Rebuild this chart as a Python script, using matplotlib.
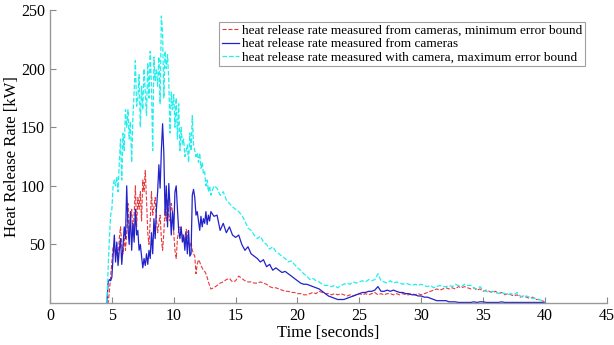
import numpy as np
import matplotlib
matplotlib.use('Agg')
import matplotlib.pyplot as plt

plt.rcParams['font.family'] = ['Liberation Serif', 'DejaVu Serif']

# time axis: fine step through the peak, coarser afterwards
t_fine = np.round(np.arange(4.6, 13.05, 0.1), 2)
t_coarse = np.round(np.arange(13.25, 40.01, 0.25), 2)
time = np.concatenate([t_fine, t_coarse])

hrr_min = [
    0, 0, 10, 22, 35, 48, 50, 40, 45, 38,
    55, 65, 50, 42, 55, 45, 60, 85, 55, 70,
    80, 60, 75, 100, 65, 90, 80, 95, 70, 105,
    95, 113, 88, 60, 50, 70, 95, 75, 82, 90,
    72, 60, 68, 75, 55, 45, 60, 80, 70, 88,
    75, 70, 85, 78, 60, 45, 38, 55, 62, 65,
    60, 58, 52, 55, 63, 60, 50, 48, 52, 45,
    42, 40, 25, 33, 37, 35, 32, 30, 28, 27,
    25, 22, 18, 15, 12,
    13, 15, 17, 18, 20, 21, 18, 19, 23, 21,
    19, 18, 18, 17, 17, 18, 17, 16, 14, 13,
    13, 12, 11, 10, 10, 9, 9, 8, 8, 7,
    7, 8, 9, 8, 10, 9, 8, 8, 7, 8,
    7, 8, 7, 6, 7, 6, 7, 8, 7, 8,
    7, 8, 9, 7, 8, 7, 8, 8, 7, 8,
    7, 8, 7, 7, 8, 7, 8, 7, 8, 9,
    10, 11, 12, 11, 12, 13, 12, 13, 12, 14,
    13, 14, 13, 12, 13, 11, 12, 10, 11, 10,
    9, 10, 8, 9, 7, 8, 7, 6, 7, 5,
    6, 5, 4, 5, 3, 3, 2, 1,
]

hrr_cam = [
    0, 18, 20, 19, 22, 40, 58, 35, 52, 32,
    45, 55, 33, 48, 65, 55, 100, 65, 50, 78,
    45, 68, 52, 80, 58, 62, 45, 50, 40, 30,
    38, 32, 42, 33, 45, 38, 60, 42, 72, 55,
    80, 95, 118, 98, 130, 153, 128, 75, 100, 65,
    102, 82, 58, 78, 62, 95, 100, 80, 62, 55,
    65, 52, 58, 45, 60, 42, 62, 40, 42, 92,
    97, 90, 75, 78, 70, 62, 74, 65, 72, 68,
    78, 67, 75, 70, 78,
    74, 75, 62, 68, 60, 65, 58, 56, 58, 50,
    45, 48, 42, 40, 38, 35, 37, 31, 33, 28,
    30, 28, 26, 27, 25, 23, 21, 19, 17, 16,
    16, 15, 14, 13, 12, 10, 8, 6, 5, 4,
    3, 3, 3, 4, 5, 6, 7, 8, 9, 9,
    10, 10, 11, 14, 10, 10, 11, 10, 11, 10,
    9, 9, 8, 8, 7, 7, 6, 6, 5, 5,
    4, 3, 2, 2, 2, 2, 1, 1, 1, 0.5,
    0.5, 0.5, 0.5, 0.5, 1, 0.5, 1, 1, 0.5, 0.5,
    0.5, 0.5, 0.5, 1, 0.5, 0.5, 0.5, 0.5, 0.5, 0.5,
    0.5, 0.5, 0.5, 0.5, 0.5, 0.5, 0.5, 0,
]

hrr_max = [
    0, 30, 55, 75, 80, 100, 105, 100, 108, 95,
    120, 140, 105, 145, 130, 165, 150, 165, 140, 155,
    120, 158, 180, 207, 168, 175, 195, 150, 185, 165,
    200, 180, 160, 205, 175, 215, 185, 130, 210, 190,
    200, 185, 210, 170, 245, 230, 175, 215, 200, 212,
    190, 145, 180, 165, 178, 150, 175, 140, 170, 130,
    150, 135, 140, 125, 130, 135, 120, 145, 130, 160,
    135, 130, 125, 128, 120, 128, 115, 120, 110, 112,
    100, 105, 95, 100, 92,
    100, 98, 92, 95, 88, 85, 82, 80, 78, 75,
    70, 64, 62, 58, 55, 57, 52, 50, 46, 48,
    44, 42, 40, 38, 35, 36, 33, 30, 28, 25,
    23, 20, 21, 19, 18, 16, 15, 15, 14, 15,
    13, 15, 16, 17, 16, 18, 17, 18, 19, 18,
    20, 19, 20, 25, 19, 18, 17, 19, 17, 18,
    17, 16, 17, 16, 15, 16, 15, 16, 15, 14,
    15, 13, 14, 15, 14, 14, 15, 14, 16, 15,
    14, 16, 15, 15, 13, 12, 14, 11, 10, 9,
    10, 9, 8, 9, 8, 7, 8, 7, 9, 6,
    5, 6, 5, 4, 4, 3, 2, 1,
]

labels = ['heat release rate measured from cameras, minimum error bound',
          'heat release rate measured from cameras',
          'heat release rate measured with camera, maximum error bound']

fig = plt.figure(figsize=(6.14, 3.45), dpi=100)
ax = fig.add_axes([0.0814, 0.1217, 0.907, 0.849])

ax.plot(time, hrr_min, '--', color='#e8383c', lw=0.8, label=labels[0])
ax.plot(time, hrr_cam, '-', color='#2222cc', lw=0.9, label=labels[1])
ax.plot(time, hrr_max, '--', color='#22eeee', lw=0.9, label=labels[2])

ax.set_xlim(0, 45)
ax.set_ylim(0, 250)
ax.set_xticks(np.arange(0, 46, 5))
ax.set_yticks([50, 100, 150, 200, 250])
ax.set_xlabel('Time [seconds]', fontsize=12, labelpad=1)
ax.set_ylabel('Heat Release Rate [kW]', fontsize=12, labelpad=1)
ax.tick_params(direction='in', length=4, labelsize=11.5, color='#888888', width=0.8)
for s in ['top', 'right']:
    ax.spines[s].set_visible(False)
for s in ['left', 'bottom']:
    ax.spines[s].set_color('#999999')
    ax.spines[s].set_linewidth(1.0)

leg = ax.legend(loc='upper right', bbox_to_anchor=(0.96, 0.96), fontsize=9.5,
                frameon=True, fancybox=False, handlelength=1.3, handletextpad=0.2,
                labelspacing=0.1, borderpad=0.2, borderaxespad=0)
leg.get_frame().set_edgecolor('#888888')
leg.get_frame().set_linewidth(0.8)

plt.savefig('out.png', dpi=100)
